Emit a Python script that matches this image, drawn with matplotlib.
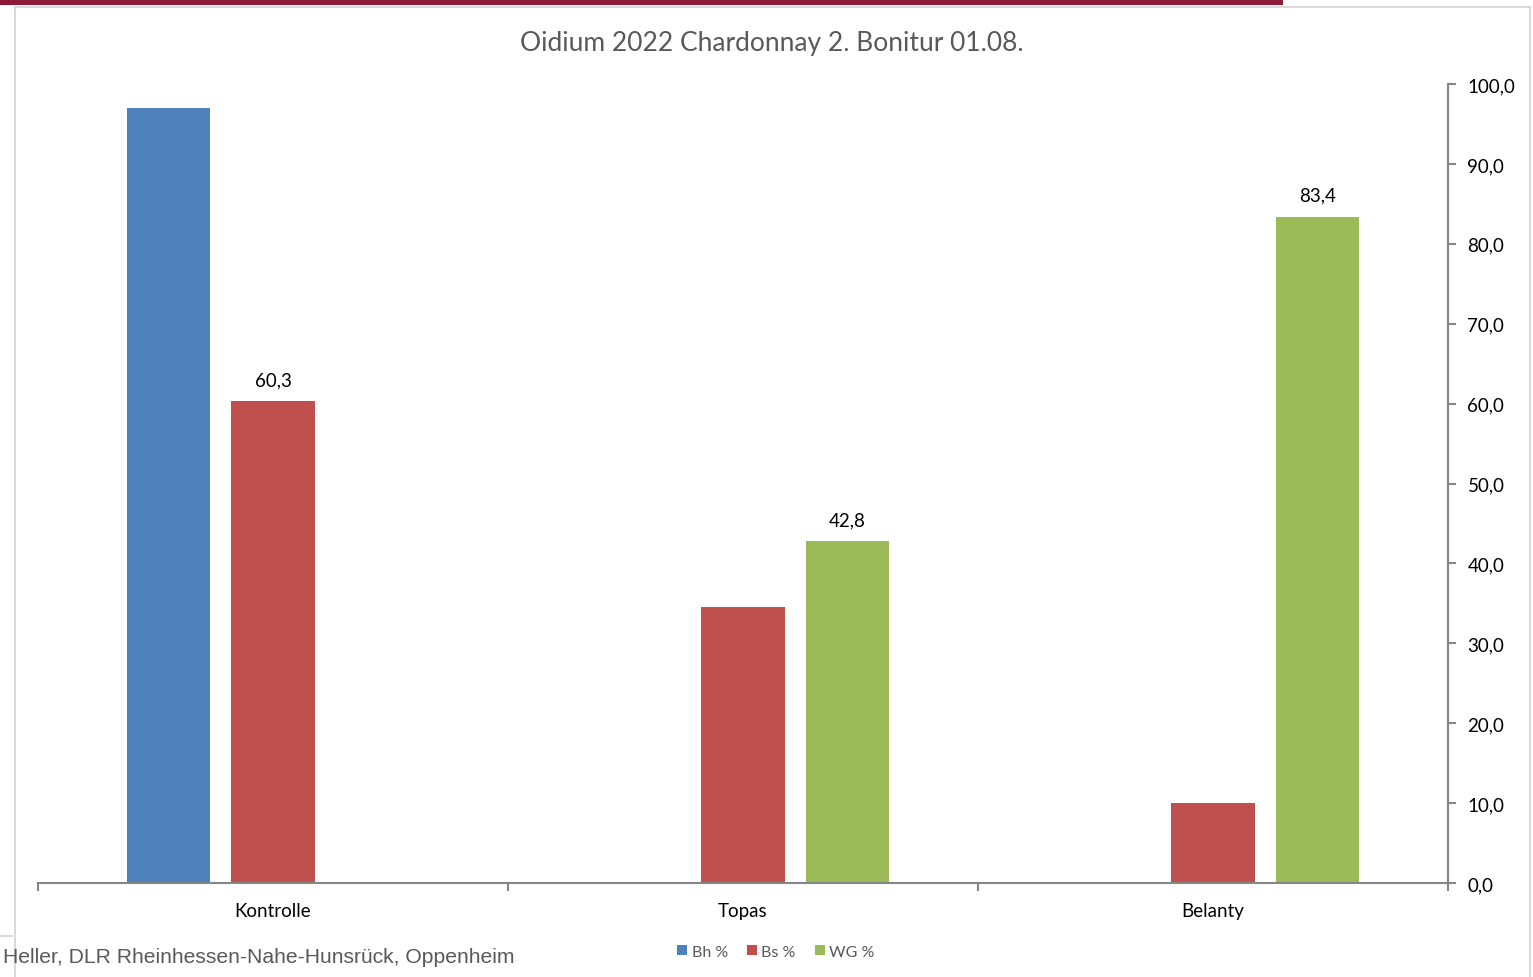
import matplotlib.pyplot as plt
from matplotlib.ticker import FuncFormatter, MultipleLocator
import numpy as np

categories = ['Kontrolle', 'Topas', 'Belanty']
series = ['Bh %', 'Bs %', 'WG %']
bh = [97.0, 0.0, 0.0]
bs = [60.3, 34.5, 10.0]
wg = [0.0, 42.8, 83.4]
# which bars carry a value label (as in the original)
labelled = {('Bs %', 0): 60.3, ('WG %', 1): 42.8, ('WG %', 2): 83.4}

colors = ['#4F81BD', '#C0504D', '#9BBB59']
font = ['Lato', 'DejaVu Sans']

fig = plt.figure(figsize=(15.33, 9.78), dpi=100)
fig.patch.set_facecolor('white')

# page decorations: red strip on top and light chart frame
fig.add_artist(plt.Rectangle((0, 1 - 6 / 978), 1283 / 1533, 6 / 978,
                             transform=fig.transFigure, color='#8E1A3A', lw=0))
frame_kw = dict(transform=fig.transFigure, color='#D9D9D9', lw=1.5)
fig.add_artist(plt.Line2D([15 / 1533, 15 / 1533], [0, 1 - 8 / 978], **frame_kw))
fig.add_artist(plt.Line2D([15 / 1533, 1530 / 1533], [1 - 8 / 978, 1 - 8 / 978], **frame_kw))
fig.add_artist(plt.Line2D([1530 / 1533, 1530 / 1533], [0, 1 - 8 / 978], **frame_kw))
fig.add_artist(plt.Line2D([0, 12 / 1533], [1 - 937 / 978, 1 - 937 / 978], **frame_kw))

ax = fig.add_axes([38 / 1533, 94 / 978, 1410 / 1533, 799 / 978])

x = np.arange(len(categories))
width = 0.177
offset = 0.222
for i, (name, vals) in enumerate(zip(series, [bh, bs, wg])):
    pos = x + (i - 1) * offset
    ax.bar(pos, vals, width, color=colors[i], label=name, zorder=2)
    for j, v in enumerate(vals):
        if (name, j) in labelled:
            ax.text(pos[j], v + 1.6, f'{v:.1f}'.replace('.', ','), ha='center',
                    va='bottom', fontsize=13.5, color='#000000', family=font)

ax.set_xlim(-0.5, 2.5)
ax.set_ylim(0, 100)

ax.spines['top'].set_visible(False)
ax.spines['left'].set_visible(False)
ax.spines['right'].set_color('#868686')
ax.spines['bottom'].set_color('#868686')
ax.spines['right'].set_linewidth(1.5)
ax.spines['bottom'].set_linewidth(1.5)

ax.yaxis.tick_right()
ax.yaxis.set_major_locator(MultipleLocator(10))
ax.yaxis.set_major_formatter(FuncFormatter(lambda v, p: f'{v:.1f}'.replace('.', ',')))
ax.tick_params(axis='y', length=6, width=1.5, color='#868686', labelsize=13.5,
               labelcolor='#000000', pad=8)

ax.set_xticks([-0.5, 0.5, 1.5, 2.5])
ax.set_xticklabels([])
ax.set_xticks(x, minor=True)
ax.set_xticklabels(categories, minor=True, fontsize=13.5, family=font)
ax.tick_params(axis='x', which='major', length=6, width=1.5, color='#868686')
ax.tick_params(axis='x', which='minor', length=0, pad=14)
for lbl in ax.get_yticklabels():
    lbl.set_family(font)

fig.text(772 / 1533, 1 - 44 / 978, 'Oidium 2022 Chardonnay 2. Bonitur 01.08.',
         ha='center', va='center', fontsize=19, color='#595959', family=font)

fig.legend(loc='center', bbox_to_anchor=(776 / 1533, 1 - 953 / 978), ncol=3,
           frameon=False, prop={'family': font, 'size': 11.5}, handlelength=0.6,
           handleheight=0.6, handletextpad=0.3, columnspacing=1.2,
           labelcolor='#595959')

fig.text(3 / 1533, 1 - 958 / 978, 'Heller, DLR Rheinhessen-Nahe-Hunsrück, Oppenheim',
         ha='left', va='center', fontsize=15.2, color='#595959', family='Liberation Sans')

fig.savefig('out.png', dpi=100)
